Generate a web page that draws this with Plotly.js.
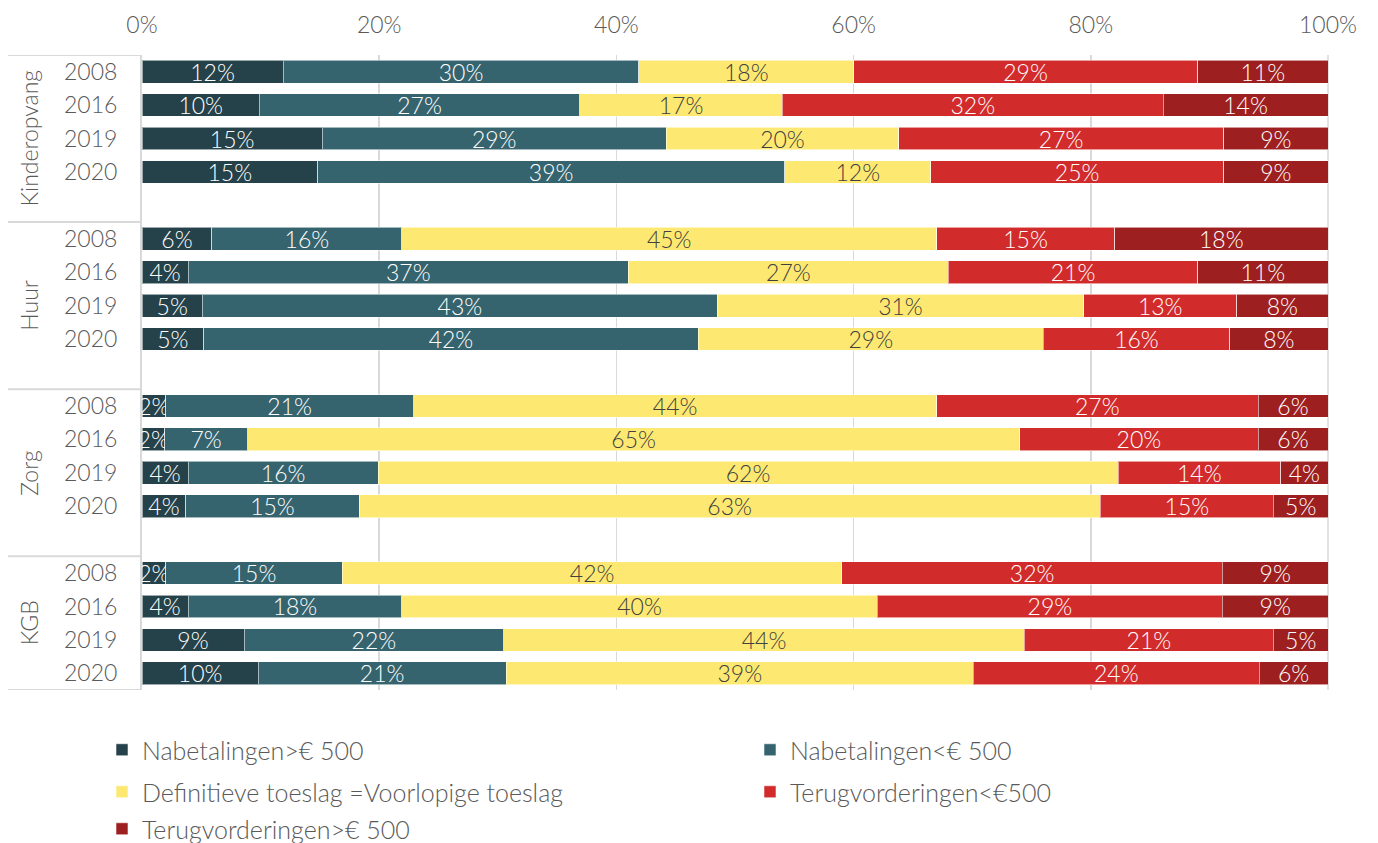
<!DOCTYPE html>
<html>
<head>
<meta charset="utf-8">
<script src="https://cdn.plot.ly/plotly-3.0.1.min.js"></script>
<style>html,body{margin:0;padding:0;background:#fff;}#chart{width:1378px;height:843px;}</style>
</head>
<body>
<div id="chart"></div>
<script>
// Categories
const groups = ['Kinderopvang', 'Huur', 'Zorg', 'KGB'];
const years = ['2008', '2016', '2019', '2020'];

// X-axis ticks
const xTickVals = [0, 20, 40, 60, 80, 100];
const xTickText = ['0%', '20%', '40%', '60%', '80%', '100%'];

// Series (percent of each row, rows ordered group by group, years within group)
const nabetalingenHoog = [11.9, 9.9, 15.2, 14.8,  5.9, 3.9, 5.1, 5.2,  2.0, 1.9, 3.9, 3.7,  2.0, 3.9, 8.6, 9.8];
const nabetalingenLaag = [30.0, 27.0, 29.0, 39.4,  16.0, 37.1, 43.4, 41.7,  20.9, 7.0, 16.0, 14.6,  14.9, 18.0, 21.9, 20.9];
const definitief       = [18.1, 17.1, 19.6, 12.3,  45.1, 27.0, 30.9, 29.1,  44.1, 65.1, 62.4, 62.5,  42.1, 40.1, 43.9, 39.4];
const terugLaag        = [29.0, 32.1, 27.4, 24.7,  15.0, 21.0, 12.9, 15.7,  27.1, 20.1, 13.7, 14.6,  32.1, 29.1, 21.0, 24.1];
const terugHoog        = [11.0, 13.9, 8.8, 8.8,  18.0, 11.0, 7.7, 8.3,  5.9, 5.9, 4.0, 4.6,  8.9, 8.9, 4.6, 5.8];

const seriesNames = ['Nabetalingen>€ 500', 'Nabetalingen<€ 500', 'Definitieve toeslag =Voorlopige toeslag', 'Terugvorderingen<€500', 'Terugvorderingen>€ 500'];
const seriesValues = [nabetalingenHoog, nabetalingenLaag, definitief, terugLaag, terugHoog];
const seriesColors = ['#25424a', '#36646e', '#fde971', '#d22b2b', '#9e1f1f'];
const labelColors = ['#ffffff', '#ffffff', '#404040', '#ffffff', '#ffffff'];

// Row positions: 4 rows per group plus one empty slot between groups
const slot = 5;
const yPos = [];
const yText = [];
groups.forEach((g, gi) => years.forEach((yr, yi) => { yPos.push(gi * slot + yi); yText.push(yr); }));
const nRows = groups.length * slot - 1;

const FONT = 'Lato, "Open Sans", sans-serif';
const FW = 300;
const FS = 23;
const GRAY = '#595959';

// legend placement (container px)
const legendPos = [[102, 750], [750, 750], [102, 792], [750, 792], [102, 829]];

const traces = seriesValues.map((vals, i) => ({
  type: 'bar',
  orientation: 'h',
  name: seriesNames[i],
  x: vals,
  y: yPos,
  width: 0.68,
  marker: {color: seriesColors[i], line: {color: 'rgba(255,255,255,0.55)', width: 1}},
  texttemplate: '%{x:.0f}%',
  textposition: 'inside',
  insidetextanchor: 'middle',
  textangle: 0,
  constraintext: 'none',
  cliponaxis: true,
  textfont: {family: FONT, size: FS, weight: FW, color: labelColors[i]},
  legend: i === 0 ? 'legend' : 'legend' + (i + 1),
  hoverinfo: 'skip'
}));

const layout = {
  width: 1378,
  height: 843,
  margin: {l: 142, r: 50, t: 55, b: 153},
  paper_bgcolor: '#ffffff',
  plot_bgcolor: '#ffffff',
  barmode: 'stack',
  font: {family: FONT, size: FS, weight: FW, color: GRAY},
  showlegend: true,
  xaxis: {
    side: 'top',
    range: [0, 100],
    tickmode: 'array',
    tickvals: xTickVals,
    ticktext: xTickText,
    showgrid: true,
    gridcolor: '#d9d9d9',
    gridwidth: 1.5,
    zeroline: false,
    showline: false,
    ticks: '',
    ticklabelstandoff: 16,
    tickfont: {family: FONT, size: FS, weight: FW, color: GRAY},
    fixedrange: true
  },
  yaxis: {
    range: [nRows - 0.5, -0.5],
    tickmode: 'array',
    tickvals: yPos,
    ticktext: yText,
    showgrid: false,
    zeroline: false,
    showline: true,
    linecolor: '#d9d9d9',
    linewidth: 2,
    ticks: '',
    ticklabelstandoff: 18,
    tickfont: {family: FONT, size: FS, weight: FW, color: GRAY},
    fixedrange: true
  },
  shapes: [{
    type: 'line', xref: 'paper', yref: 'paper', x0: 1, x1: 1, y0: 0, y1: 1,
    layer: 'below', line: {color: '#d9d9d9', width: 1.5}
  }],
  annotations: []
};

// group separators and group labels
const x0px = 8, plotLeft = 142, plotW = 1378 - 142 - 50;
const toPaperX = px => (px - plotLeft) / plotW;
const bounds = [-0.5];
groups.forEach((g, gi) => bounds.push(gi < groups.length - 1 ? gi * slot + 4.5 : nRows - 0.5));
bounds.forEach(b => layout.shapes.push({
  type: 'line', xref: 'paper', yref: 'y', x0: toPaperX(x0px), x1: 0, y0: b, y1: b,
  line: {color: '#d9d9d9', width: 2}
}));
groups.forEach((g, gi) => layout.annotations.push({
  xref: 'paper', yref: 'y', x: toPaperX(29), y: (bounds[gi] + bounds[gi + 1]) / 2,
  text: g, textangle: -90, showarrow: false, xanchor: 'center', yanchor: 'middle',
  font: {family: FONT, size: FS, weight: FW, color: GRAY}
}));

// one legend per series, positioned as in the reference
seriesNames.forEach((n, i) => {
  const key = i === 0 ? 'legend' : 'legend' + (i + 1);
  layout[key] = {
    xref: 'container', yref: 'container',
    x: legendPos[i][0] / 1378, y: 1 - legendPos[i][1] / 843,
    xanchor: 'left', yanchor: 'middle',
    orientation: 'h',
    bgcolor: 'rgba(0,0,0,0)',
    borderwidth: 0,
    font: {family: FONT, size: 25, weight: FW, color: GRAY},
    itemclick: false, itemdoubleclick: false
  };
});

Plotly.newPlot('chart', traces, layout, {displayModeBar: false, staticPlot: true});
</script>
</body>
</html>
